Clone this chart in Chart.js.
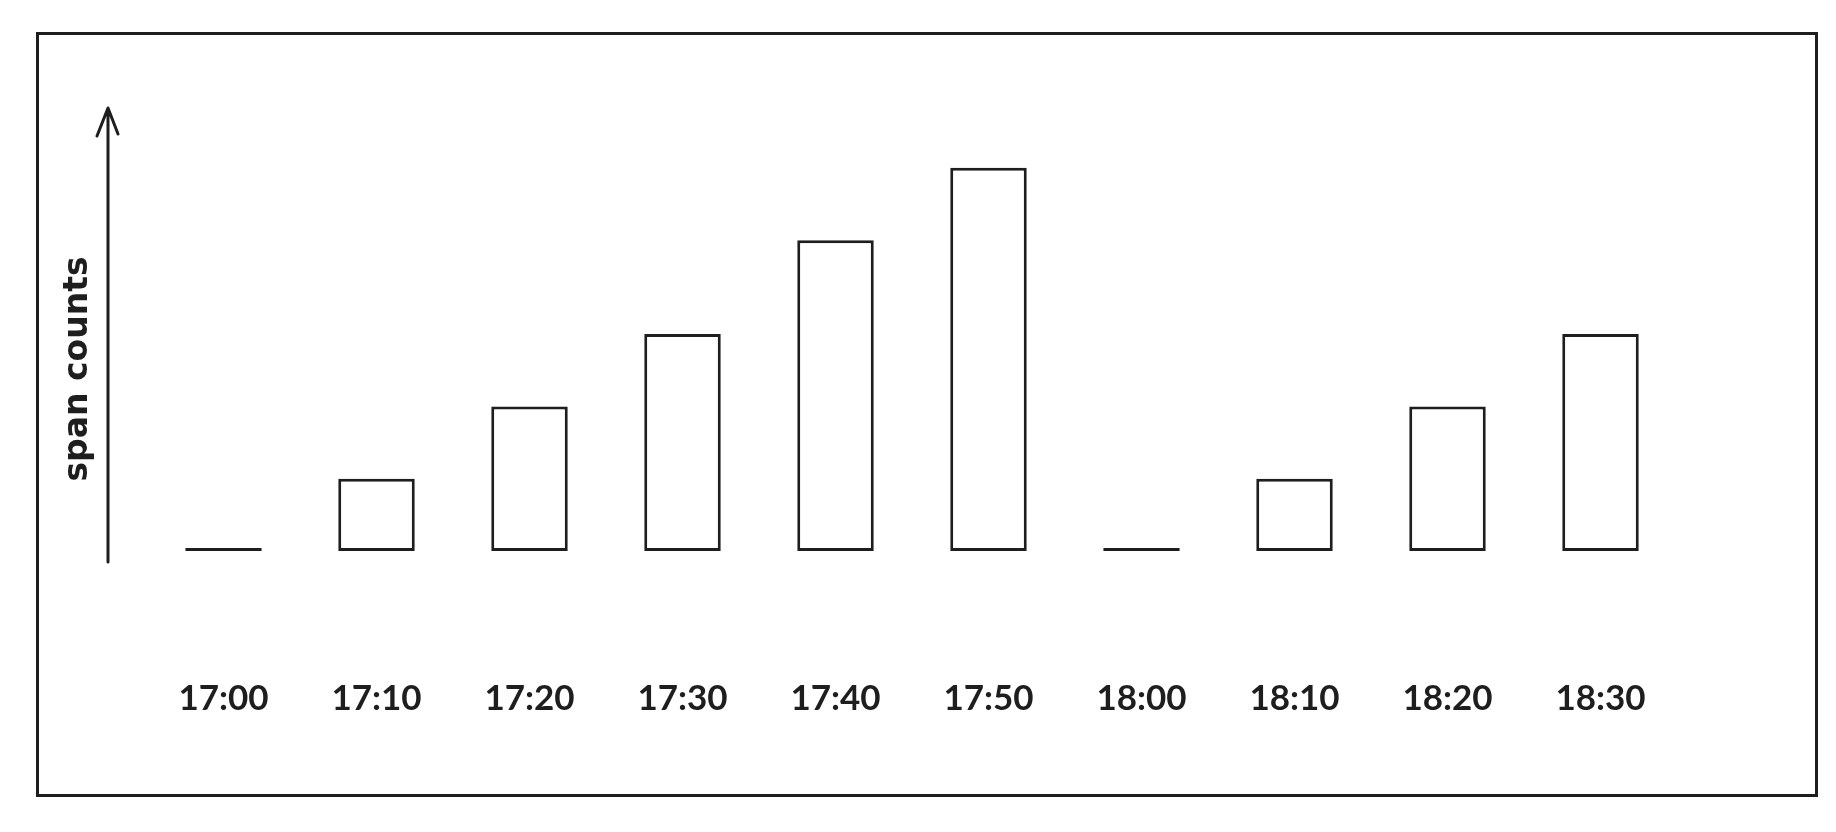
<!DOCTYPE html>
<html>
<head>
<meta charset="utf-8">
<script src="https://cdn.jsdelivr.net/npm/chart.js@4/dist/chart.umd.min.js"></script>
<style>
  html, body { margin: 0; padding: 0; background: #fff; }
  #wrap { position: relative; width: 1836px; height: 832px; }
  #frame {
    position: absolute; left: 36px; top: 32px; width: 1776px; height: 759px;
    border: 3px solid #1e1e1e; pointer-events: none;
  }
  canvas { position: absolute; left: 0; top: 0; }
</style>
</head>
<body>
<div id="wrap">
  <canvas id="chart" width="1836" height="832"></canvas>
  <div id="frame"></div>
</div>
<script>
var timeLabels = ['17:00', '17:10', '17:20', '17:30', '17:40', '17:50', '18:00', '18:10', '18:20', '18:30'];
var spanCounts = [0, 10, 20, 30, 43, 53, 0, 10, 20, 30];
var yTitle = 'span counts';
var ink = '#1e1e1e';

// y axis drawn as an arrow left of the plot area, with its label beside it
var arrowAxis = {
    id: 'arrowAxis',
    afterDraw: function(chart) {
        var ctx = chart.ctx;
        var area = chart.chartArea;
        var x = area.left - 39;
        var top = area.top - 2;
        ctx.save();
        ctx.strokeStyle = ink;
        ctx.lineWidth = 3;
        ctx.lineCap = 'round';
        ctx.lineJoin = 'round';
        ctx.beginPath();
        ctx.moveTo(x, area.bottom + 11);
        ctx.lineTo(x, top);
        ctx.moveTo(x - 11, top + 28);
        ctx.lineTo(x, top);
        ctx.lineTo(x + 10, top + 26);
        ctx.stroke();

        ctx.translate(area.left - 69, area.bottom - 182);
        ctx.rotate(-Math.PI / 2);
        ctx.fillStyle = ink;
        ctx.font = 'bold 33px "DejaVu Sans"';
        ctx.textAlign = 'center';
        ctx.textBaseline = 'middle';
        ctx.fillText(yTitle, 0, 0);
        ctx.restore();
    }
};

var mychart = document.getElementById('chart').getContext('2d');
var newChart = new Chart(mychart, {
    type: 'bar',
    data: {
        labels: timeLabels,
        datasets: [{
            label: yTitle,
            data: spanCounts,
            backgroundColor: '#ffffff',
            borderColor: ink,
            borderWidth: 3,
            borderSkipped: false,
            minBarLength: 3,
            barPercentage: 0.5,
            categoryPercentage: 1
        }]
    },
    options: {
        responsive: false,
        animation: false,
        layout: { padding: { left: 56, right: 159, top: 110, bottom: 111 } },
        plugins: { legend: { display: false }, tooltip: { enabled: false } },
        scales: {
            x: {
                grid: { display: false },
                border: { display: false },
                ticks: {
                    color: ink, padding: 119, maxRotation: 0, autoSkip: false,
                    font: { family: 'Lato', size: 35, weight: 'bold' }
                },
                afterFit: function(scale) { scale.height = 170; }
            },
            y: {
                min: 0,
                max: 61,
                grid: { display: false },
                border: { display: false },
                ticks: { display: false },
                afterFit: function(scale) { scale.width = 91; }
            }
        }
    },
    plugins: [arrowAxis]
});
</script>
</body>
</html>
